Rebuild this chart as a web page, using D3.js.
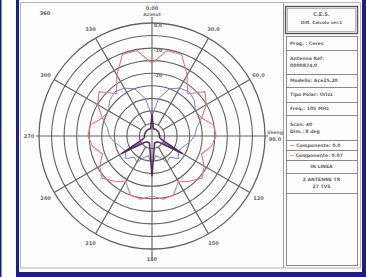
<!DOCTYPE html>
<html><head><meta charset="utf-8">
<script src="https://cdn.jsdelivr.net/npm/d3@7"></script>
<style>body{margin:0;background:#fff}svg{display:block}text{font-family:"DejaVu Sans",sans-serif}</style>
</head><body><svg id="c" width="366" height="277"></svg>
<script>
// ---- data ----
const angleDeg = [0,10,20,30,40,50,60,70,80,90,100,110,120,130,140,150,160,170,180,190,200,210,220,230,240,250,260,270,280,290,300,310,320,330,340,350];
// red component (dB)
const compRed = [-16,-10.5,-10.5,-17,-23,-17.5,-20,-24,-20,-19.5,-21,-24,-21,-19,-21.5,-24,-20,-19.5,-21,-19.5,-20,-24,-21.5,-19,-21,-24,-21,-19.5,-20,-24,-20,-17.5,-23,-17,-10.5,-10.5];
// blue component (dB)
const compBlue = [-37,-30,-25,-23,-22,-23,-25,-24,-27,-28,-30,-32,-33,-31,-34,-33,-36,-37,-33,-37,-36,-33,-34,-31,-33,-32,-30,-28,-27,-24,-25,-23,-22,-23,-25,-30];
// dark component (dB)
const compDark = [-36,-42,-42,-42,-42,-42,-42,-42,-42,-42,-42,-41,-31,-41,-42,-42,-42,-40,-29,-40,-42,-42,-42,-41,-31,-41,-42,-42,-42,-42,-42,-42,-42,-42,-42,-42];
const ringLevels = [-40,-35,-30,-25,-20,-15,-10,-5,0];
const ringLabels = ["0.0","-10","-20"];
const ringLabelLevels = [0,-10,-20];
const spokeAngles = [0,30,60,90,120,150,180,210,240,270,300,330];
const angleLabels = ["0.00","30.0","60.0","90.0","120","150","180","210","240","270","300","330"];
const titleLines = ["C.E.S.","Diff. Calcolo ver.1"];
const panelRows = [["Prog. : Ceres"],["Antenna Ref:","0000874.0"],["Modello: Ace25.20"],["Tipo Polar: Orizz"],["Freq.: 105 MHz"],["Scan: 40","Dim.: 8 deg"],["\u2014 Componente: 0.0"],["-- Componente: 0.07"],["IN LINEA"],["2 ANTENNE TR","27 TVS"]];

// ---- layout ----
const svg = d3.select("#c");
const W = 366, H = 277;
const cx = 152, cy = 136, R = 113;
const navy = "#1d1d86";

svg.append("rect").attr("x",0).attr("y",0).attr("width",W).attr("height",H).attr("fill","#fff");
svg.append("rect").attr("x",0).attr("y",0).attr("width",1.5).attr("height",H).attr("fill",navy);
svg.append("rect").attr("x",16).attr("y",0).attr("width",W-16).attr("height",H).attr("fill",navy);
svg.append("rect").attr("x",19).attr("y",0).attr("width",343).attr("height",272).attr("fill","#fdfdfd");
// paper frame
svg.append("rect").attr("x",20.5).attr("y",2.5).attr("width",340).attr("height",265.5)
  .attr("fill","none").attr("stroke","#b4b4b4").attr("stroke-width",1);
svg.append("line").attr("x1",283.5).attr("x2",283.5).attr("y1",2.5).attr("y2",268)
  .attr("stroke","#9a9a9a").attr("stroke-width",1);

const r = d3.scaleLinear().domain([-45,0]).range([0,R]);
const a = d3.scaleLinear().domain([0,360]).range([0,2*Math.PI]);
const px = (deg, rad) => cx + rad*Math.sin(a(deg));
const py = (deg, rad) => cy - rad*Math.cos(a(deg));

const g = svg.append("g");
const gridColor = "#626262";
// rings
g.selectAll("circle.ring").data(ringLevels).enter().append("circle")
  .attr("cx",cx).attr("cy",cy).attr("r",d=>r(d))
  .attr("fill","none").attr("stroke",gridColor).attr("stroke-width",d=>d===0?1.3:1.1);
// spokes
g.selectAll("line.spoke").data(spokeAngles).enter().append("line")
  .attr("x1",d=>px(d, d%90===0 ? 0 : r(-40)))
  .attr("y1",d=>py(d, d%90===0 ? 0 : r(-40)))
  .attr("x2",d=>px(d, d===0 ? R+6 : d===180 ? R+9 : d%90===0 ? R+3 : R))
  .attr("y2",d=>py(d, d===0 ? R+6 : d===180 ? R+9 : d%90===0 ? R+3 : R))
  .attr("stroke",gridColor).attr("stroke-width",1.1);

// patterns
const line = d3.lineRadial().angle(d=>a(d.a)).radius(d=>r(d.v)).curve(d3.curveLinearClosed);
const mk = arr => angleDeg.map((ang,i)=>({a:ang,v:arr[i]}));
const pg = svg.append("g").attr("transform",`translate(${cx},${cy})`);
pg.append("path").attr("d",line(mk(compRed))).attr("fill","none")
  .attr("stroke","#d57a86").attr("stroke-width",1.1);
pg.append("path").attr("d",line(mk(compBlue))).attr("fill","none")
  .attr("stroke","#7584c2").attr("stroke-width",1);
pg.append("path").attr("d",line(mk(compDark))).attr("fill","none")
  .attr("stroke","#4e2c5e").attr("stroke-width",1.5);

// ring labels along vertical axis
svg.selectAll("text.rl").data(ringLabelLevels).enter().append("text")
  .attr("x",cx+2).attr("y",d=>cy-r(d)+4)
  .attr("font-size",4.5).attr("fill","#666").attr("font-weight","bold")
  .text((d,i)=>ringLabels[i]);

// angle labels
svg.selectAll("text.al").data(spokeAngles).enter().append("text")
  .attr("x",d=>px(d, d===0?R+13 : R+10))
  .attr("y",d=>py(d, d===0?R+13 : R+10) + (d===90?4.5: d===0? 0 : 2))
  .attr("text-anchor","middle").attr("font-size",5).attr("font-weight","bold").attr("fill","#666")
  .text((d,i)=>angleLabels[i]);
svg.append("text").attr("x",px(0,R+8)).attr("y",py(0,R+8)+1).attr("text-anchor","middle")
  .attr("font-size",4.5).attr("font-weight","bold").attr("fill","#777").text("Azimut");
svg.append("text").attr("x",px(90,R+10)).attr("y",py(90,R+10)-2).attr("text-anchor","middle")
  .attr("font-size",4.5).attr("font-weight","bold").attr("fill","#777").text("Sheng");
svg.append("text").attr("x",45).attr("y",15).attr("text-anchor","middle")
  .attr("font-size",5).attr("font-weight","bold").attr("fill","#555").text("360");

// ---- right panel ----
const pL = 286, pR = 357, pW = pR-pL;
const boxCol = "#8a8a8a";
svg.append("rect").attr("x",pL-0.5).attr("y",6.5).attr("width",pW+1).attr("height",27)
  .attr("fill","none").attr("stroke","#555").attr("stroke-width",1.4);
svg.append("rect").attr("x",pL+1.5).attr("y",8.5).attr("width",pW-3).attr("height",23)
  .attr("fill","none").attr("stroke","#999").attr("stroke-width",0.7);
titleLines.forEach((t,i)=>svg.append("text").attr("x",(pL+pR)/2).attr("y",16+i*8)
  .attr("text-anchor","middle").attr("font-size",i?4.2:5).attr("font-weight","bold").attr("fill","#666").text(t));

const rowEdges = [36,50,74,87,102,115,140,150,160,173,193];
svg.append("rect").attr("x",pL+0.5).attr("y",36.5).attr("width",pW).attr("height",229)
  .attr("fill","none").attr("stroke",boxCol).attr("stroke-width",1);
rowEdges.slice(1).forEach(y=>svg.append("line").attr("x1",pL+0.5).attr("x2",pR+0.5)
  .attr("y1",y+0.5).attr("y2",y+0.5).attr("stroke",boxCol).attr("stroke-width",1));
panelRows.forEach((lines,i)=>{
  const y0 = rowEdges[i], y1 = rowEdges[i+1];
  const centered = i>=8;
  const mid = (y0+y1)/2;
  lines.forEach((t,j)=>{
    const yy = mid + (j-(lines.length-1)/2)*7 + 1.8;
    svg.append("text").attr("x",centered?(pL+pR)/2:pL+4).attr("y",yy)
      .attr("text-anchor",centered?"middle":"start")
      .attr("font-size",4.6).attr("font-weight","bold").attr("fill","#666").text(t);
  });
});
</script></body></html>
